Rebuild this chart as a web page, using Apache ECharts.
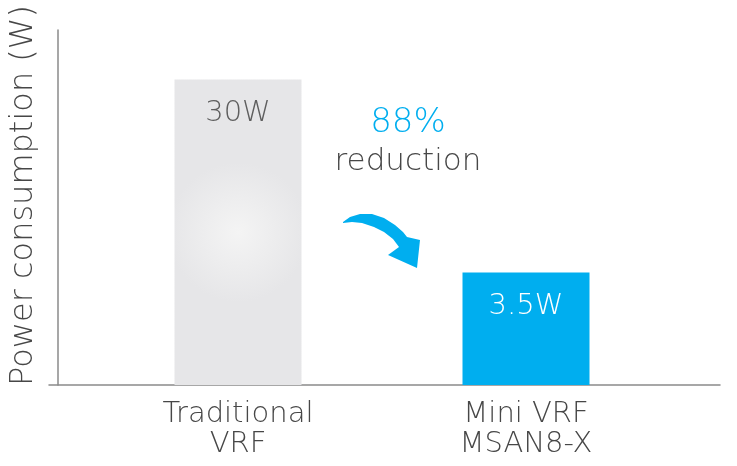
<!DOCTYPE html>
<html>
<head>
<meta charset="utf-8">
<script src="https://cdn.jsdelivr.net/npm/echarts@6/dist/echarts.min.js"></script>
<style>
html, body { margin: 0; padding: 0; background: #fff; }
#main { width: 737px; height: 466px; }
</style>
</head>
<body>
<div id="main"></div>
<script>
var categories = ['Traditional\nVRF', 'Mini VRF\nMSAN8-X'];
var values = [30, 3.5];
var valueLabels = ['30W', '3.5W'];
var reductionPct = '88%';

var FONT = '"DejaVu Sans"';
var GRAY = '#474747';
var BLUE = '#00aeef';

var chart = echarts.init(document.getElementById('main'));

var barData = values.map(function (v, i) {
    var style;
    if (i == 0) {
        style = {
            color: {
                type: 'radial', x: 0.5, y: 0.5, r: 0.55,
                colorStops: [{ offset: 0, color: '#f4f4f4' }, { offset: 1, color: '#e6e6e8' }]
            }
        };
    } else {
        style = { color: BLUE };
    }
    return {
        value: v,
        itemStyle: style,
        label: { color: i == 0 ? '#5e5e5e' : '#ffffff' }
    };
});

// curved arrow outline (decoration)
var arrowPts = [
    [343, 222], [350, 217], [360, 214], [372, 214], [384, 218], [395, 225], [403, 232], [407, 237],
    [420, 240], [417, 268], [388, 255], [399, 247],
    [393, 239], [384, 232], [374, 227], [362, 223], [352, 222], [343, 223]
];

var option = {
    animation: false,
    grid: [
        // frame with the axis lines
        { left: 43, right: 17, top: 30, bottom: 81 },
        // bars
        { left: 94, right: 67, top: 30, bottom: 81 }
    ],
    xAxis: [
        {
            gridIndex: 0, type: 'category', data: [''],
            axisLine: { lineStyle: { color: '#8a8a8a', width: 1.5 } },
            axisTick: { show: false }, axisLabel: { show: false }
        },
        {
            gridIndex: 1, type: 'category', data: categories,
            axisLine: { show: false }, axisTick: { show: false },
            axisLabel: {
                margin: 14, color: GRAY, fontFamily: FONT, fontWeight: 200,
                fontSize: 29, lineHeight: 30
            }
        }
    ],
    yAxis: [
        {
            gridIndex: 0, type: 'value', offset: -9,
            name: 'Power consumption (W)', nameLocation: 'middle', nameGap: 18,
            nameTextStyle: {
                color: GRAY, fontFamily: FONT, fontWeight: 200, fontSize: 32,
                padding: [0, 0, 0, 24]
            },
            axisLine: { show: true, lineStyle: { color: '#8a8a8a', width: 1.5 } },
            axisTick: { show: false }, axisLabel: { show: false }, splitLine: { show: false }
        },
        {
            gridIndex: 1, type: 'log', min: 1, max: 52,
            axisLine: { show: false }, axisTick: { show: false },
            axisLabel: { show: false }, splitLine: { show: false }
        }
    ],
    series: [{
        type: 'bar',
        xAxisIndex: 1, yAxisIndex: 1,
        barWidth: 127,
        data: barData,
        label: {
            show: true, position: 'insideTop', distance: 20,
            fontFamily: FONT, fontWeight: 200, fontSize: 29,
            formatter: function (p) { return valueLabels[p.dataIndex]; }
        }
    }],
    graphic: [
        {
            type: 'text', x: 408, y: 106,
            style: { text: reductionPct, fill: BLUE, font: '200 34px "DejaVu Sans"', align: 'center' }
        },
        {
            type: 'text', x: 408, y: 146,
            style: { text: 'reduction', fill: GRAY, font: '200 31px "DejaVu Sans"', align: 'center' }
        },
        {
            type: 'polygon',
            shape: { points: arrowPts },
            style: { fill: BLUE }
        }
    ]
};
chart.setOption(option);
</script>
</body>
</html>
